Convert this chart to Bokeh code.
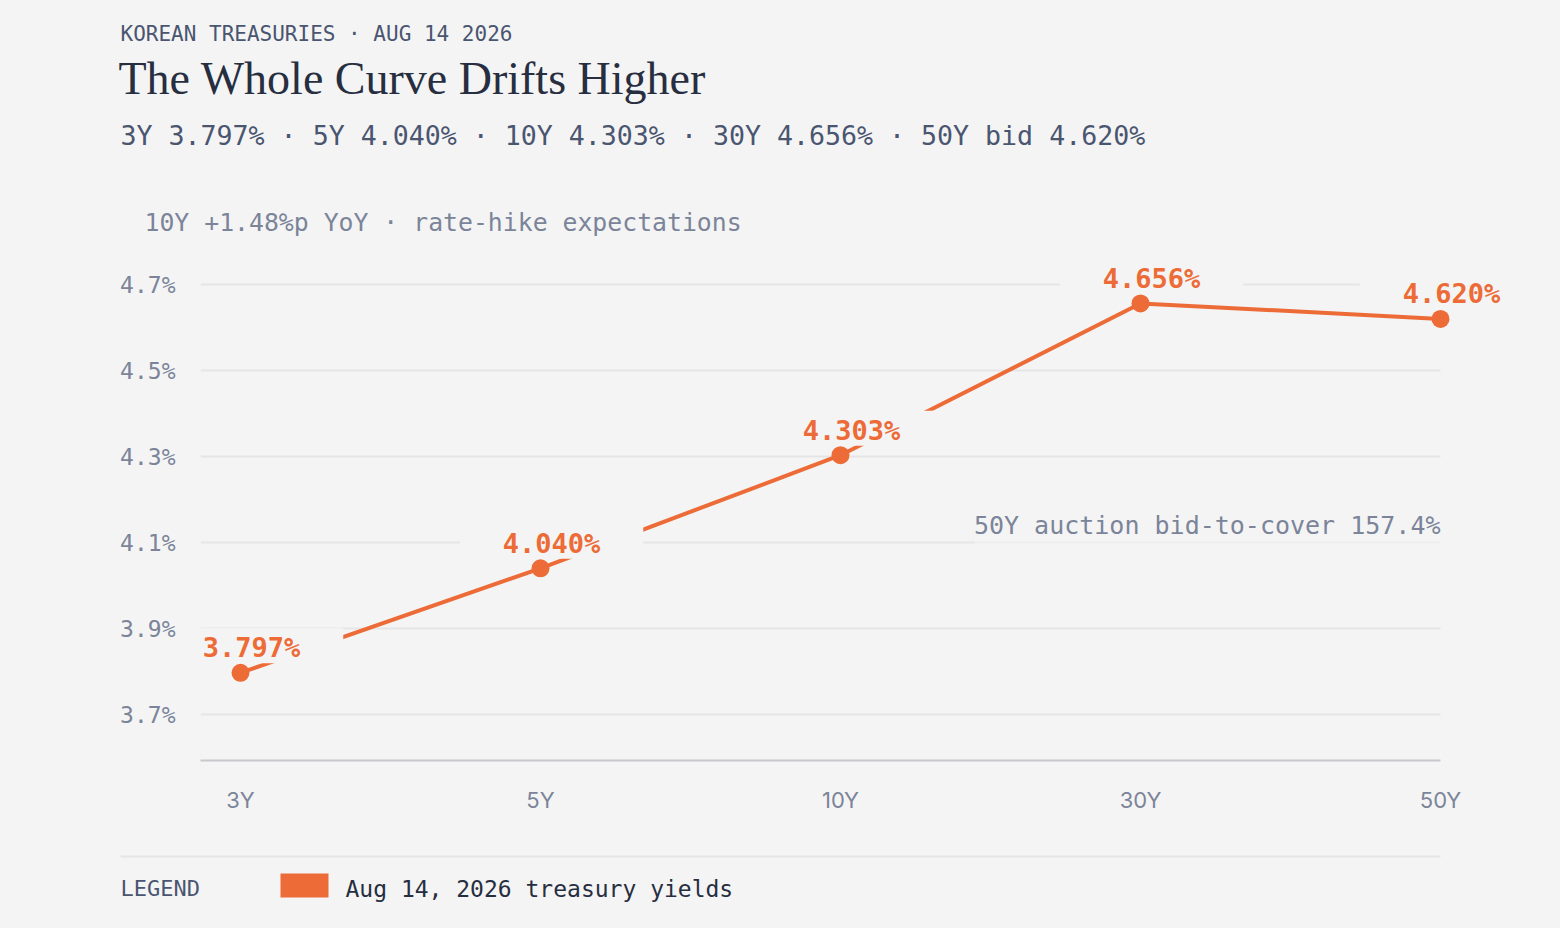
from bokeh.plotting import figure
from bokeh.layouts import column
from bokeh.models import Label, FixedTicker, PrintfTickFormatter, Range1d
from bokeh.core.properties import value
from bokeh.embed import file_html
from bokeh.resources import INLINE

# ---------------- data ----------------
tenors = ["3Y", "5Y", "10Y", "30Y", "50Y"]
yields = [3.797, 4.040, 4.303, 4.656, 4.620]
yield_labels = ["3.797%", "4.040%", "4.303%", "4.656%", "4.620%"]
y_ticks = [3.7, 3.9, 4.1, 4.3, 4.5, 4.7]

kicker = "KOREAN TREASURIES · AUG 14 2026"
title = "The Whole Curve Drifts Higher"
subtitle = "3Y 3.797% · 5Y 4.040% · 10Y 4.303% · 30Y 4.656% · 50Y bid 4.620%"
note_top = "10Y +1.48%p YoY · rate-hike expectations"
note_auction = "50Y auction bid-to-cover 157.4%"
legend_title = "LEGEND"
legend_label = "Aug 14, 2026 treasury yields"

# ---------------- style ----------------
BG = "#f4f4f4"
ORANGE = "#ec6b37"
INK = "#272e3f"
SLATE = "#4a5570"
MUTED = "#7b8499"
GRID = "#e5e5e5"
AXIS = "#c8c8cc"
MONO = "DejaVu Sans Mono"

W = 1560
H_HEAD, H_MAIN, H_LEG = 245, 595, 88

# page-pixel geometry of the main chart
X0_PX, X_STEP = 240, 300                  # first category position, px per category
Y_REF, Y_REF_PX, Y_SCALE = 4.7, 284, 430  # value, page y, px per 1.0
F_LEFT, F_RIGHT, F_TOP, F_BOTTOM = 200, 1510, 250, 760


def dx(px):
    return (px - X0_PX) / X_STEP


def dy(py):
    return Y_REF + (Y_REF_PX - py) / Y_SCALE


def blank(h):
    f = figure(width=W, height=h, x_range=Range1d(0, W), y_range=Range1d(h, 0),
               output_backend="svg", toolbar_location=None, title=None,
               x_axis_location=None, y_axis_location=None,
               min_border=0, background_fill_color=BG, border_fill_color=BG,
               outline_line_color=None, frame_align=False)
    f.grid.visible = False
    return f


# ---------------- header ----------------
head = blank(H_HEAD)
head.text(x=[120], y=[33], text=[kicker], text_baseline="middle",
          text_font=value(MONO), text_font_size="21px", text_color=SLATE)
head.text(x=[118], y=[78], text=[title], text_baseline="middle",
          text_font=value("Liberation Serif"), text_font_size="46px",
          text_color=INK)
head.text(x=[120], y=[135], text=[subtitle], text_baseline="middle",
          text_font=value(MONO), text_font_size="26.6px", text_color=SLATE)
head.text(x=[144], y=[222], text=[note_top], text_baseline="middle",
          text_font=value(MONO), text_font_size="24.8px", text_color=MUTED)

# ---------------- main chart ----------------
y0_page = H_HEAD
xr = Range1d(dx(F_LEFT), dx(F_RIGHT))
yr = Range1d(dy(F_BOTTOM), dy(F_TOP))

p = figure(width=W, height=H_MAIN, x_range=xr, y_range=yr,
           output_backend="svg", toolbar_location=None, title=None,
           min_border_left=F_LEFT, min_border_right=W - F_RIGHT,
           min_border_top=F_TOP - y0_page,
           min_border_bottom=y0_page + H_MAIN - F_BOTTOM,
           background_fill_color=BG, border_fill_color=BG,
           outline_line_color=None, frame_align=False)
p.grid.visible = False

xs = list(range(len(tenors)))
last_x = xs[-1]

# gridlines ending at the last category
p.segment(x0=[dx(F_LEFT)] * len(y_ticks), x1=[last_x] * len(y_ticks),
          y0=y_ticks, y1=y_ticks, line_color=GRID, line_width=2)

# series
p.line(xs, yields, line_color=ORANGE, line_width=4)
p.scatter(xs, yields, size=18, fill_color=ORANGE, line_color=None)

# value labels with background knock-out
for x, v, t in zip(xs, yields, yield_labels):
    p.add_layout(Label(x=x + 11 / X_STEP, y=v + 27 / Y_SCALE, text=t,
                       text_align="center", text_baseline="middle",
                       text_font=MONO, text_font_style="bold",
                       text_font_size="27px", text_color=ORANGE,
                       background_fill_color=BG,
                       padding=dict(left=43, right=43, top=4, bottom=0)))

# auction note
p.add_layout(Label(x=dx(1440), y=dy(526), text=note_auction,
                   text_align="right", text_baseline="middle",
                   text_font=MONO, text_font_size="25px", text_color=MUTED,
                   background_fill_color=BG, background_fill_alpha=0.55,
                   padding=dict(left=0, right=0, top=2, bottom=4)))

# axes
xa = p.xaxis[0]
xa.ticker = FixedTicker(ticks=xs)
xa.major_label_overrides = {x: t for x, t in zip(xs, tenors)}
xa.bounds = (dx(F_LEFT), last_x)
xa.axis_line_color = AXIS
xa.axis_line_width = 2
xa.major_tick_line_color = None
xa.minor_tick_line_color = None
xa.major_label_standoff = 20
xa.major_label_text_font = "Inter"
xa.major_label_text_font_size = "22px"
xa.major_label_text_color = MUTED

ya = p.yaxis[0]
ya.ticker = FixedTicker(ticks=y_ticks)
ya.formatter = PrintfTickFormatter(format="%.1f%%")
ya.axis_line_color = None
ya.major_tick_line_color = None
ya.minor_tick_line_color = None
ya.major_label_standoff = 19
ya.major_label_text_font = MONO
ya.major_label_text_font_size = "23px"
ya.major_label_text_color = MUTED

# ---------------- legend strip ----------------
leg = blank(H_LEG)
L0 = H_HEAD + H_MAIN
leg.segment(x0=[120], x1=[1440], y0=[856 - L0], y1=[856 - L0],
            line_color=GRID, line_width=2)
leg.text(x=[120], y=[888 - L0], text=[legend_title], text_baseline="middle",
         text_font=value(MONO), text_font_size="22px", text_color=SLATE)
leg.quad(left=[280], right=[328], top=[873 - L0], bottom=[897 - L0],
         fill_color=ORANGE, line_color=None)
leg.text(x=[345], y=[888 - L0], text=[legend_label], text_baseline="middle",
         text_font=value(MONO), text_font_size="23px", text_color=INK)

layout = column(head, p, leg, spacing=0)

html = file_html(layout, INLINE)
html = html.replace("<head>", "<head><style>body{background:#f4f4f4;}</style>", 1)
open("out.html", "w").write(html)
